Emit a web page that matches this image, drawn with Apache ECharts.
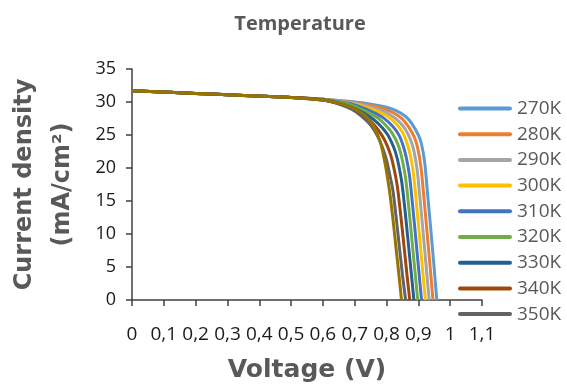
<!DOCTYPE html>
<html>
<head>
<meta charset="utf-8">
<script src="https://cdn.jsdelivr.net/npm/echarts@6/dist/echarts.min.js"></script>
<style>
  html, body { margin: 0; padding: 0; background: #fff; }
  #chart { width: 567px; height: 392px; }
</style>
</head>
<body>
<div id="chart"></div>
<script>
// temperatures (legend only shows the first nine, 360K is cut off in the original)
const temps = ['270K', '280K', '290K', '300K', '310K', '320K', '330K', '340K', '350K', '360K'];
const legendTemps = temps.slice(0, 9);
const colors = ['#5B9BD5', '#ED7D31', '#A5A5A5', '#FFC000', '#4472C4', '#70AD47', '#255E91', '#9E480E', '#636363', '#997300'];

// flat part shared by all curves [V, J]
const baseCurve = [[0, 31.7], [0.1, 31.5], [0.2, 31.3], [0.3, 31.1], [0.4, 30.9], [0.5, 30.7]];

// knee part of each curve [V, J]
const knee270 = [[0.6, 30.4], [0.7, 30.0], [0.76, 29.6], [0.8, 29.2], [0.83, 28.7], [0.86, 27.8], [0.88, 26.7], [0.9, 25.0], [0.91, 23.6], [0.92, 20.8], [0.93, 15.5], [0.94, 10.2], [0.95, 4.6], [0.958, 0]];
const knee280 = [[0.6, 30.4], [0.7, 29.9], [0.75, 29.5], [0.79, 29.0], [0.82, 28.4], [0.85, 27.4], [0.87, 26.2], [0.888, 24.6], [0.898, 23.0], [0.908, 20.2], [0.918, 15.2], [0.928, 9.9], [0.938, 4.4], [0.946, 0]];
const knee290 = [[0.6, 30.4], [0.7, 29.8], [0.74, 29.4], [0.78, 28.8], [0.81, 28.1], [0.84, 27.0], [0.86, 25.8], [0.876, 24.2], [0.886, 22.6], [0.896, 19.8], [0.906, 14.9], [0.916, 9.7], [0.926, 4.3], [0.934, 0]];
const knee300 = [[0.6, 30.4], [0.7, 29.7], [0.73, 29.3], [0.77, 28.6], [0.8, 27.9], [0.83, 26.7], [0.85, 25.4], [0.864, 23.8], [0.874, 22.1], [0.884, 19.4], [0.894, 14.6], [0.904, 9.5], [0.914, 4.2], [0.922, 0]];
const knee310 = [[0.6, 30.4], [0.68, 29.8], [0.72, 29.2], [0.76, 28.4], [0.79, 27.6], [0.82, 26.3], [0.84, 24.9], [0.852, 23.4], [0.862, 21.6], [0.872, 18.9], [0.882, 14.3], [0.892, 9.3], [0.902, 4.1], [0.91, 0]];
const knee320 = [[0.6, 30.3], [0.67, 29.8], [0.71, 29.1], [0.75, 28.2], [0.78, 27.3], [0.81, 25.8], [0.828, 24.4], [0.84, 23.0], [0.85, 21.1], [0.86, 18.4], [0.87, 14.0], [0.88, 9.0], [0.89, 4.0], [0.898, 0]];
const knee330 = [[0.6, 30.3], [0.66, 29.7], [0.7, 29.0], [0.74, 28.0], [0.77, 26.9], [0.8, 25.3], [0.816, 23.9], [0.828, 22.4], [0.838, 20.5], [0.848, 17.8], [0.858, 13.6], [0.868, 8.8], [0.878, 3.9], [0.886, 0]];
const knee340 = [[0.6, 30.3], [0.66, 29.6], [0.7, 28.8], [0.73, 27.9], [0.76, 26.6], [0.786, 24.9], [0.802, 23.4], [0.814, 21.8], [0.824, 19.8], [0.834, 17.2], [0.844, 13.1], [0.854, 8.6], [0.864, 3.9], [0.873, 0]];
const knee350 = [[0.6, 30.3], [0.65, 29.7], [0.69, 28.9], [0.72, 27.9], [0.75, 26.5], [0.772, 24.8], [0.788, 23.0], [0.8, 21.2], [0.81, 19.0], [0.82, 16.6], [0.83, 12.6], [0.84, 8.2], [0.85, 3.8], [0.86, 0]];
const knee360 = [[0.6, 30.3], [0.65, 29.8], [0.69, 29.2], [0.72, 28.4], [0.74, 27.6], [0.76, 26.3], [0.78, 24.0], [0.795, 20.8], [0.81, 16.3], [0.82, 12.3], [0.83, 7.8], [0.84, 3.3], [0.847, 0]];

const knees = [knee270, knee280, knee290, knee300, knee310, knee320, knee330, knee340, knee350, knee360];

const chart = echarts.init(document.getElementById('chart'));

const series = temps.map((name, i) => ({
  name: name,
  type: 'line',
  smooth: 0.3,
  symbol: 'none',
  data: baseCurve.concat(knees[i]),
  lineStyle: { width: 3, color: colors[i] },
  itemStyle: { color: colors[i] }
}));

const option = {
  animation: false,
  backgroundColor: '#fff',
  title: {
    text: 'Temperature',
    left: 295,
    top: 9,
    textAlign: 'center',
    textStyle: { fontFamily: 'Open Sans', fontWeight: 'bold', fontSize: 20, color: '#595959' }
  },
  legend: {
    data: legendTemps,
    orient: 'vertical',
    left: 458,
    top: 99,
    padding: 0,
    icon: 'path://M2 0H52A2 2 0 0 1 52 4H2A2 2 0 0 1 2 0Z',
    itemWidth: 54,
    itemHeight: 14,
    itemGap: 6.7,
    textStyle: { fontFamily: 'Open Sans', fontSize: 19, color: '#595959' }
  },
  grid: { left: 132, right: 85, top: 69, bottom: 92, outerBoundsMode: 'none', containLabel: false },
  xAxis: {
    type: 'value',
    min: 0,
    max: 1.1,
    interval: 0.1,
    name: 'Voltage (V)',
    nameLocation: 'middle',
    nameGap: 58,
    nameTextStyle: { fontFamily: 'DejaVu Sans', fontWeight: 'bold', fontSize: 25, color: '#595959' },
    axisLine: { lineStyle: { color: '#404040', width: 1.5 } },
    axisTick: { show: true, length: 6, lineStyle: { color: '#404040', width: 1.5 } },
    axisLabel: {
      margin: 25,
      fontFamily: 'Open Sans',
      fontSize: 19,
      color: '#1a1a1a',
      formatter: v => String(Math.round(v * 10) / 10).replace('.', ',')
    },
    splitLine: { show: false }
  },
  yAxis: {
    type: 'value',
    min: 0,
    max: 35,
    interval: 5,
    name: 'Current density\n(mA/cm²)',
    nameLocation: 'middle',
    nameRotate: 90,
    nameGap: 50,
    nameTextStyle: { fontFamily: 'DejaVu Sans', fontWeight: 'bold', fontSize: 24, lineHeight: 38, color: '#595959' },
    axisLine: { show: true, lineStyle: { color: '#404040', width: 1.5 } },
    axisTick: { show: true, length: 6, lineStyle: { color: '#404040', width: 1.5 } },
    axisLabel: { margin: 16, fontFamily: 'Open Sans', fontSize: 18, color: '#1a1a1a' },
    splitLine: { show: false }
  },
  series: series
};

chart.setOption(option);
</script>
</body>
</html>
